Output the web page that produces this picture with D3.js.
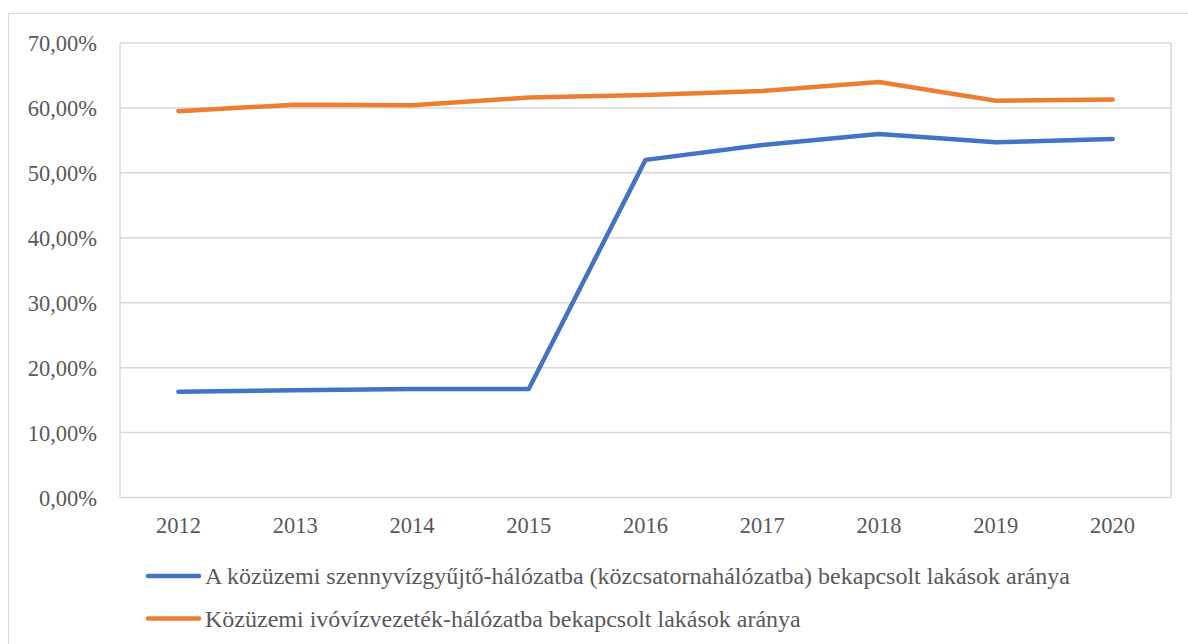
<html>
<head>
<meta charset="utf-8">
<script src="https://cdn.jsdelivr.net/npm/d3@7"></script>
</head>
<body style="margin:0;background:#fff">
<script>
const years=["2012","2013","2014","2015","2016","2017","2018","2019","2020"]
const sewerValues=[16.3,16.5,16.7,16.7,52.0,54.3,56.0,54.7,55.2]
const waterValues=[59.5,60.5,60.4,61.6,62.0,62.6,64.0,61.1,61.3]
const yTicks=[0,10,20,30,40,50,60,70]
const seriesNames=["A közüzemi szennyvízgyűjtő-hálózatba (közcsatornahálózatba) bekapcsolt lakások aránya","Közüzemi ivóvízvezeték-hálózatba bekapcsolt lakások aránya"]
const seriesColors=["#4472C4","#ED7D31"]

const W=1188,H=644
const m={left:120,right:1171,top:43,bottom:497.5}
const FONT="'Liberation Serif'"
const FS=22.5, LFS=24
const svg=d3.select("body").append("svg").attr("width",W).attr("height",H)

// outer frame
svg.append("rect").attr("x",8.5).attr("y",13.5).attr("width",W+10).attr("height",H+10)
  .attr("fill","none").attr("stroke","#d9d9d9").attr("stroke-width",1)

const x=d3.scaleBand().domain(years).range([m.left,m.right])
const y=d3.scaleLinear().domain([0,70]).range([m.bottom,m.top])

// grid
svg.append("g").selectAll("line").data(yTicks).join("line")
  .attr("x1",m.left).attr("x2",m.right).attr("y1",d=>y(d)).attr("y2",d=>y(d))
  .attr("stroke","#d9d9d9").attr("stroke-width",1.5)
svg.append("line").attr("x1",m.left).attr("x2",m.left).attr("y1",m.top).attr("y2",m.bottom).attr("stroke","#d9d9d9").attr("stroke-width",1.5)
svg.append("line").attr("x1",m.right).attr("x2",m.right).attr("y1",m.top).attr("y2",m.bottom).attr("stroke","#d9d9d9").attr("stroke-width",1.5)

// y labels
svg.append("g").selectAll("text").data(yTicks).join("text")
  .attr("x",97).attr("y",d=>y(d)+8)
  .style("text-anchor","end").style("font-family",FONT).style("font-size",FS+"px").style("fill","#595959")
  .text(d=>d3.format(".2f")(d).replace(".",",")+"%")

// x labels
svg.append("g").selectAll("text").data(years).join("text")
  .attr("x",d=>x(d)+x.bandwidth()/2).attr("y",533)
  .style("text-anchor","middle").style("font-family",FONT).style("font-size",FS+"px").style("fill","#595959")
  .text(d=>d)

const line=d3.line().x((d,i)=>x(years[i])+x.bandwidth()/2).y(d=>y(d))
const allSeries=[sewerValues,waterValues]
svg.append("g").selectAll("path").data(allSeries).join("path")
  .attr("d",d=>line(d)).attr("fill","none").attr("stroke",(d,i)=>seriesColors[i])
  .attr("stroke-width",4.5).attr("stroke-linecap","round").attr("stroke-linejoin","round")

// legend
const lg=svg.append("g").selectAll("g").data(seriesNames).join("g")
  .attr("transform",(d,i)=>"translate(0,"+(576+i*42.5)+")")
lg.append("line").attr("x1",148).attr("x2",199).attr("stroke",(d,i)=>seriesColors[i])
  .attr("stroke-width",4.5).attr("stroke-linecap","round")
lg.append("text").attr("x",205).attr("y",8)
  .style("font-family",FONT).style("font-size",LFS+"px").style("fill","#595959")
  .text(d=>d)
</script>
</body>
</html>
